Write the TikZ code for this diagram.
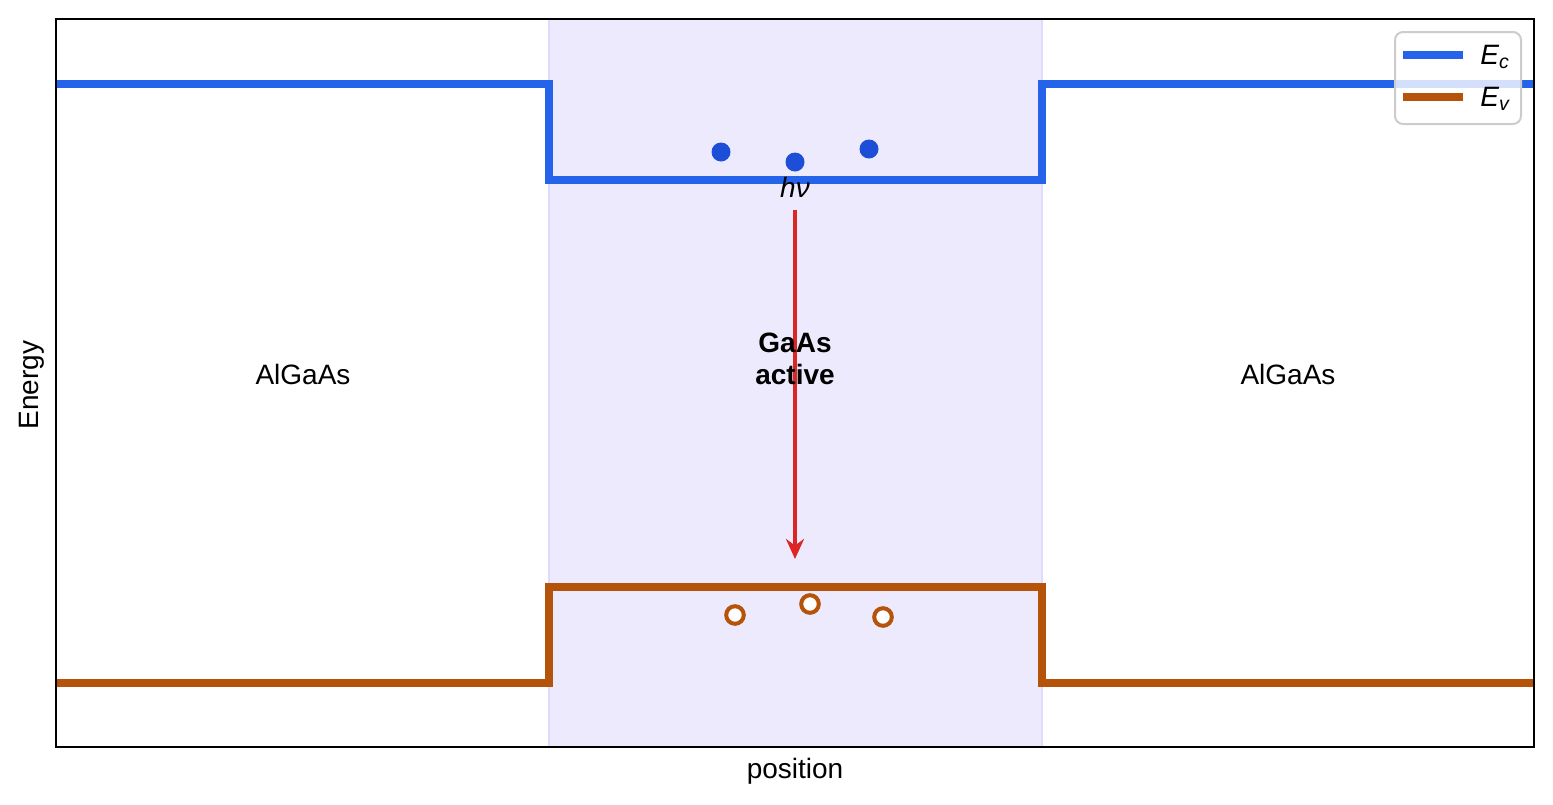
\documentclass[tikz,border=0pt]{standalone}
\usepackage{fontspec}
\setmainfont{Liberation Sans}
\usetikzlibrary{arrows.meta}
\definecolor{ecblue}{HTML}{2563EB}
\definecolor{evorange}{HTML}{B45309}
\definecolor{dotblue}{HTML}{1D4ED8}
\definecolor{arrred}{HTML}{DC2626}
\definecolor{activebg}{HTML}{EEEAFD}
\definecolor{activeedge}{HTML}{E0DAFC}
\definecolor{legedge}{HTML}{CCCCCC}
\tikzset{
  band/.style={line width=4pt},
  electron/.style={circle, fill=dotblue, inner sep=0pt, minimum size=9.5pt},
  hole/.style={circle, draw=evorange, line width=2pt, fill=white, inner sep=0pt, minimum size=8.8pt},
  lbl/.style={font=\fontsize{14pt}{17pt}\selectfont, inner sep=0pt},
  boldlbl/.style={font=\fontsize{14pt}{16pt}\selectfont\bfseries, align=center, inner sep=0pt},
}
\begin{document}
\begin{tikzpicture}[x=0.5pt, y=-0.5pt]
\useasboundingbox (0,0) rectangle (1553,804);
% shaded active region
\fill[activebg] (549,19) rectangle (1042,747);
\draw[activeedge, line width=1pt] (549,19) -- (549,747) (1042,19) -- (1042,747);
% bands
\draw[band, ecblue] (56,84) -- (549,84) -- (549,180) -- (1042,180) -- (1042,84) -- (1534,84);
\draw[band, evorange] (56,683) -- (549,683) -- (549,587) -- (1042,587) -- (1042,683) -- (1534,683);
% carriers
\node[electron] (e1) at (721,152) {};
\node[electron] (e2) at (795,162) {};
\node[electron] (e3) at (869,149) {};
\node[hole] (h1) at (735,615) {};
\node[hole] (h2) at (810,604) {};
\node[hole] (h3) at (883,617) {};
% photon transition
\node[lbl] (hnu) at (795,187) {\itshape hν};
\coordinate (astart) at (795,210);
\coordinate (aend) at (795,559);
\draw[arrred, line width=2.2pt, -{Stealth[length=10pt, width=9pt]}] (astart) -- (aend);
% region labels
\node[lbl] (left) at (303,374) {AlGaAs};
\node[lbl] (right) at (1288,374) {AlGaAs};
\node[boldlbl] (active) at (795,359) {GaAs\\active};
% axes
\draw[line width=1pt] (56,19) rectangle (1534,747);
\node[lbl, rotate=90] (ylab) at (32,385) {Energy};
\node[lbl] (xlab) at (795,771) {position};
% legend
\draw[legedge, fill=white, fill opacity=0.8, line width=1pt, rounded corners=4pt] (1395,32) rectangle (1521,124);
\coordinate (l1a) at (1403,55); \coordinate (l1b) at (1463,55);
\coordinate (l2a) at (1403,97); \coordinate (l2b) at (1463,97);
\draw[band, ecblue] (l1a) -- (l1b);
\draw[band, evorange] (l2a) -- (l2b);
\node[lbl, anchor=west] (lec) at (1480,57) {\itshape E\textsubscript{c}};
\node[lbl, anchor=west] (lev) at (1480,99) {\itshape E\textsubscript{v}};
\end{tikzpicture}
\end{document}
